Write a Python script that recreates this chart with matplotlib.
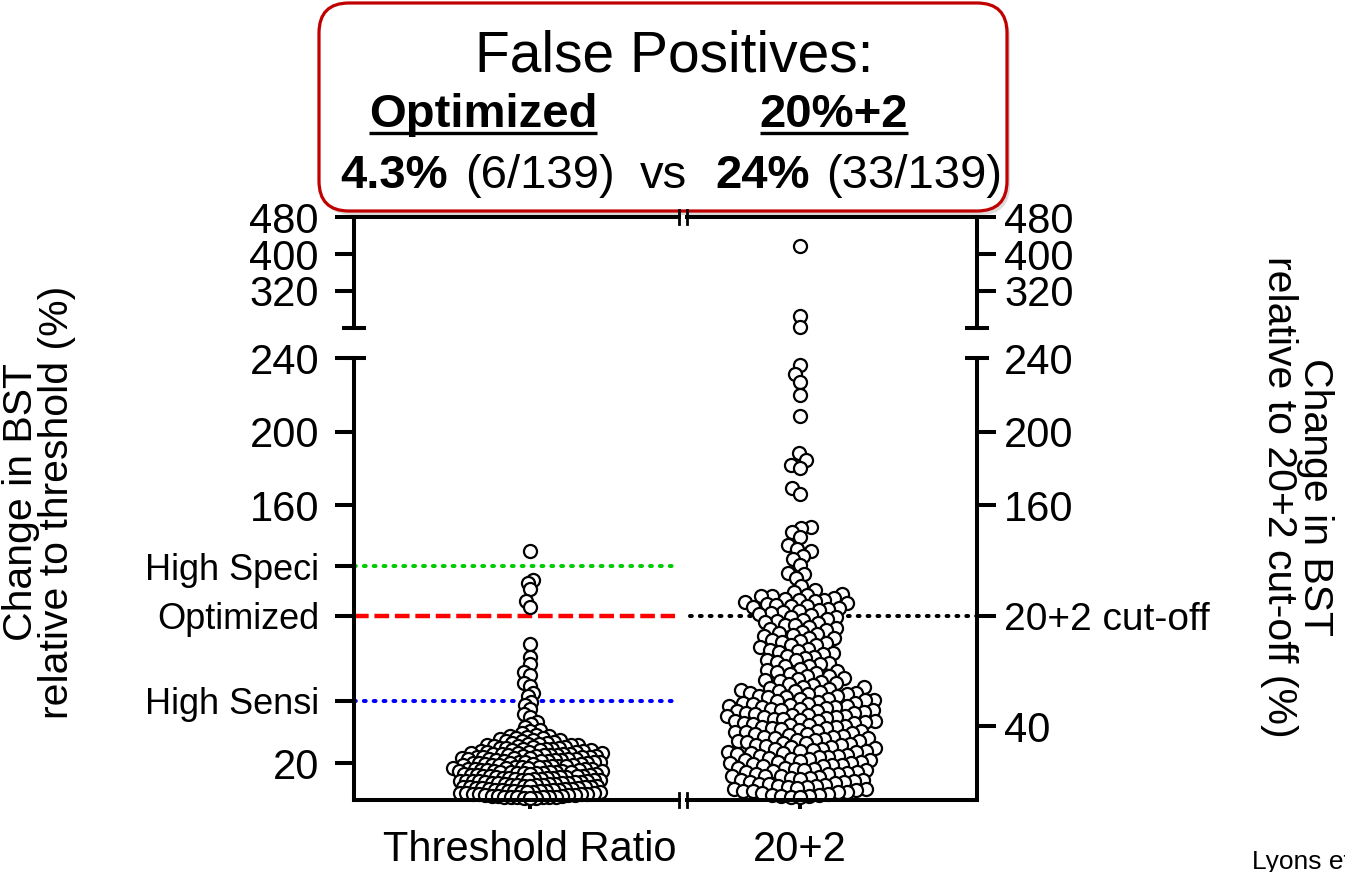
import numpy as np
import matplotlib
matplotlib.use("Agg")
import matplotlib.pyplot as plt
from matplotlib.patches import FancyBboxPatch

plt.rcParams["font.family"] = ["Liberation Sans", "DejaVu Sans"]

# ---------------- data ----------------
groups = ["Threshold Ratio", "20+2"]

# change in BST relative to the threshold ratio (%)
ratio_tail = [135.0, 119.6, 117.9, 114.7, 107.8, 104.9, 84.8, 77.9, 74.0, 69.6,
              68.1, 63.4, 62.0, 58.3, 56.2, 53.1, 51.6, 49.2, 46.5, 45.1, 42.3,
              41.0, 39.6, 38.0, 37.3, 36.2, 35.5]
ratio_core = [34.8, 34.5, 34.0, 33.7, 33.4, 33.0, 32.7, 32.5, 32.0, 31.8, 31.5,
              31.1, 30.9, 30.6, 30.3, 30.1,
              29.9, 29.7, 29.4, 29.2, 29.0, 28.8, 28.5, 28.4, 28.1, 27.9, 27.7,
              27.5, 27.2, 27.0, 26.9, 26.6, 26.5, 26.2, 26.0, 25.9, 25.7, 25.5,
              25.3, 25.2, 25.1, 25.0,
              24.9, 24.7, 24.5, 24.4, 24.2, 24.0, 23.9, 23.7, 23.5, 23.4, 23.2,
              23.1, 22.9, 22.8, 22.6, 22.4, 22.3, 22.1, 22.0, 21.8, 21.7, 21.5,
              21.4, 21.2, 21.1, 20.9, 20.8, 20.6, 20.5, 20.3, 20.2, 20.0,
              19.9, 19.7, 19.6, 19.4, 19.2, 19.1, 18.9, 18.8, 18.6, 18.5, 18.3,
              18.1, 18.0, 17.8, 17.7, 17.5, 17.4, 17.2, 17.0, 16.9, 16.7, 16.6,
              16.4, 16.3, 16.1, 15.9, 15.8, 15.6, 15.5, 15.4, 15.3, 15.2, 15.1,
              15.0,
              14.9, 14.7, 14.6, 14.4, 14.2, 14.1, 13.9, 13.8, 13.6, 13.5, 13.3,
              13.1, 13.0, 12.8, 12.7, 12.5, 12.4, 12.2, 12.0, 11.9, 11.7, 11.6,
              11.4, 11.3, 11.1, 10.9, 10.8, 10.6, 10.5, 10.4, 10.3, 10.2, 10.1,
              10.0,
              9.9, 9.7, 9.5, 9.4, 9.2, 9.1, 8.9, 8.7, 8.6, 8.4, 8.3, 8.1, 7.9,
              7.8, 7.6, 7.5, 7.3, 7.1, 7.0, 6.8, 6.7, 6.5, 6.3, 6.2, 6.0, 5.9,
              5.7, 5.6, 5.4, 5.3, 5.1, 5.0,
              4.9, 4.7, 4.6, 4.4, 4.2, 4.1, 3.9, 3.8, 3.6, 3.4, 3.3, 3.1, 3.0,
              2.8, 2.6, 2.5, 2.3, 2.2, 2.0, 1.9, 1.8, 1.7, 1.6, 1.5, 1.4, 1.3,
              1.2, 1.1]

# change in BST relative to the 20+2 cut-off (%)
cutoff_top = [418.0, 265.0, 243.0]
cutoff_tail = [236.0, 231.2, 226.8, 219.9, 208.7, 188.3, 184.6, 182.1, 180.5,
               169.2, 166.4, 148.4, 147.9, 145.3, 142.8, 138.2, 136.1, 135.0,
               132.3, 131.0, 127.4, 123.2, 122.6, 120.3, 116.1, 114.2, 112.7,
               111.9, 111.5, 110.8, 110.6]
cutoff_mid = [109.7, 109.3, 108.8, 108.5, 107.9, 107.6, 106.9, 106.6, 106.1,
              105.4, 105.2, 104.6, 104.0, 103.7, 103.1, 102.5, 102.2, 101.4,
              100.9, 100.3, 99.6, 99.1, 98.2, 97.8, 97.3, 96.7, 96.0, 95.1,
              94.9, 94.2, 93.2, 92.6, 92.1, 91.3, 90.8, 90.1, 89.4, 88.9, 88.2,
              87.9, 87.0, 86.1, 85.8, 85.3, 84.3, 83.9, 83.0, 82.2, 81.7, 81.0,
              80.6, 79.9, 79.5, 78.4, 77.9, 77.2, 76.2, 75.8, 75.1, 74.4, 73.6,
              72.9, 72.5, 71.2, 70.8, 70.1, 69.7, 68.9, 68.3, 67.6, 67.1, 66.4,
              65.9, 65.2, 64.8, 64.2, 63.5, 63.1, 62.5, 61.6, 61.1, 60.9, 60.3]
cutoff_core = [59.8, 59.4, 59.2, 58.5, 58.3, 57.9, 57.4, 57.3, 56.7, 56.4,
               56.0, 55.7, 55.1, 54.9, 54.5, 54.1, 53.7, 53.4, 52.8, 52.7,
               52.1, 51.9, 51.4, 51.2, 50.8, 50.7, 50.4, 50.1, 49.6, 49.5,
               49.0, 48.9, 48.4, 48.3, 47.8, 47.5, 47.1, 46.9, 46.4, 46.3,
               45.8, 45.7, 45.2, 44.9, 44.7, 44.1, 43.9, 43.6, 43.1, 42.9,
               42.7, 42.2, 41.8, 41.7, 41.1, 40.9, 40.6, 40.2, 39.7, 39.6,
               39.0, 38.9, 38.4, 38.2, 37.6, 37.5, 36.8, 36.7, 36.3, 35.8,
               35.6, 35.2, 34.9, 34.3, 34.1, 33.7, 33.6, 33.1, 32.8, 32.5,
               31.9, 31.8, 31.4, 30.9, 30.7, 30.3, 30.0, 29.8, 29.2, 29.0,
               28.7, 28.1, 27.9, 27.6, 27.2, 26.8, 26.6, 26.1, 25.9, 25.5,
               25.3, 24.8, 24.6, 24.0, 23.9, 23.5, 23.1, 22.8, 22.4, 22.2,
               21.7, 21.5, 21.3, 20.7, 20.6, 20.2, 19.9, 19.3, 19.1, 18.8,
               18.4, 18.2, 17.6, 17.4, 17.1, 16.9, 16.3, 16.2, 15.8, 15.4,
               15.1, 14.8, 14.3, 14.2, 13.9, 13.3, 13.2, 12.8, 12.4, 12.1,
               11.7, 11.6, 11.0, 10.8, 10.5, 9.9, 9.7, 9.3, 8.9, 8.6, 8.3,
               7.7, 7.6, 7.1, 6.9, 6.5, 6.0, 5.8, 5.3, 5.1, 4.7, 4.2, 4.1,
               3.6, 3.3, 2.9, 2.6, 2.3, 2.0, 1.8, 1.6]

ref_names = ["High Speci", "Optimized", "High Sensi"]
ref_values = [127, 100, 54]
cutoff_name = "20+2 cut-off"
cutoff_value = 100

left_ticks = [20, 160, 200, 240]
right_ticks = [40, 160, 200, 240]
upper_ticks = [320, 400, 480]

fp_title = "False Positives:"
fp_methods = ["Optimized", "20%+2"]
fp_rates = ["4.3%", "24%"]
fp_counts = ["(6/139)", "(33/139)"]

# ---------------- layout ----------------
W, H, DPI = 1345, 872, 100
fig = plt.figure(figsize=(W / DPI, H / DPI), dpi=DPI)
fig.patch.set_facecolor("white")


def rect(x0, y0, x1, y1):
    return [x0 / W, 1 - y1 / H, (x1 - x0) / W, (y1 - y0) / H]


XL, XR = 354, 977            # left / right spines
LO_TOP, LO_BOT = 358, 800    # lower segment (0-240)
HI_TOP, HI_BOT = 217, 328    # upper segment (240-480)
C0, STEP = 530, 270          # group centre and spacing
xlim = ((XL - C0) / STEP, (XR - C0) / STEP)

SP = 2.9          # spine width, pt
TL = 13.7         # y tick length, pt
NUM_FS = 30
NAME_FS = 26
LPAD, RPAD = 11.5, 6

ax_lo = fig.add_axes(rect(XL, LO_TOP, XR, LO_BOT))
ax_hi = fig.add_axes(rect(XL, HI_TOP, XR, HI_BOT))
for ax in (ax_lo, ax_hi):
    ax.set_xlim(*xlim)
    ax.patch.set_visible(False)
    for s in ax.spines.values():
        s.set_linewidth(SP)
    ax.spines["top"].set_visible(False)
    ax.spines["bottom"].set_visible(False)
ax_lo.set_ylim(0, 240)
ax_hi.set_ylim(240, 480)

# left axis of lower segment
lo_vals = [left_ticks[0], ref_values[2], ref_values[1], ref_values[0]] + left_ticks[1:]
lo_labs = [str(left_ticks[0]), ref_names[2], ref_names[1], ref_names[0]] + \
          [str(v) for v in left_ticks[1:]]
ax_lo.set_yticks(lo_vals)
ax_lo.set_yticklabels(lo_labs)
ax_lo.tick_params(axis="y", direction="out", length=TL, width=SP, pad=LPAD,
                  labelsize=NUM_FS, right=False)
for tk, lab in zip(ax_lo.yaxis.get_major_ticks(), lo_labs):
    if lab in ref_names:
        tk.label1.set_fontsize(NAME_FS)
        tk.tick1line.set_visible(False)
    if lab == "240":
        tk.tick1line.set_visible(False)

ax_lo.set_xticks([0, 1])
ax_lo.set_xticklabels(groups)
ax_lo.tick_params(axis="x", direction="out", length=6.5, width=SP, pad=15,
                  labelsize=30)

# right axis of lower segment
ax_r = ax_lo.twinx()
ax_r.set_ylim(0, 240)
ax_r.set_xlim(*xlim)
for s in ax_r.spines.values():
    s.set_visible(False)
r_vals = [right_ticks[0], cutoff_value] + right_ticks[1:]
r_labs = [str(right_ticks[0]), cutoff_name] + [str(v) for v in right_ticks[1:]]
ax_r.set_yticks(r_vals)
ax_r.set_yticklabels(r_labs)
ax_r.tick_params(axis="y", direction="out", length=TL, width=SP, pad=RPAD,
                 labelsize=NUM_FS)
for tk, lab in zip(ax_r.yaxis.get_major_ticks(), r_labs):
    if lab == cutoff_name:
        tk.label2.set_fontsize(28)
    if lab == "240":
        tk.tick2line.set_visible(False)

# upper segment, both sides
ax_hi.set_xticks([])
ax_hi.set_yticks(upper_ticks)
ax_hi.tick_params(axis="y", direction="out", length=TL, width=SP,
                  labelsize=NUM_FS, pad=LPAD, right=False)
ax_hr = ax_hi.twinx()
ax_hr.set_ylim(240, 480)
ax_hr.set_xlim(*xlim)
for s in ax_hr.spines.values():
    s.set_visible(False)
ax_hr.set_yticks(upper_ticks)
ax_hr.tick_params(axis="y", direction="out", length=TL, width=SP,
                  labelsize=NUM_FS, pad=RPAD)

# reference lines
x_left_end = (675 - C0) / STEP
x_right_start = (690 - C0) / STEP
dots = (0, (0.45, 2.0))
ax_lo.plot([xlim[0], x_left_end], [ref_values[0]] * 2, color="#00cc00",
           lw=2.9, linestyle=dots, dash_capstyle="round", zorder=1)
ax_lo.plot([xlim[0], x_left_end], [ref_values[1]] * 2, color="#ff0000",
           lw=3.2, linestyle=(0, (3.3, 1.3)), zorder=1)
ax_lo.plot([xlim[0], x_left_end], [ref_values[2]] * 2, color="#0000ff",
           lw=2.9, linestyle=dots, dash_capstyle="round", zorder=1)
ax_lo.plot([x_right_start, xlim[1]], [cutoff_value] * 2, color="black",
           lw=2.9, linestyle=dots, dash_capstyle="round", zorder=1)


# swarm layout in display space
def swarm_x(ax, centre, values, dmin):
    vals = np.asarray(values, float)
    pts = ax.transData.transform(np.column_stack([np.full(len(vals), centre), vals]))
    cx = pts[0, 0]
    ys = pts[:, 1]
    xs = np.full(len(vals), cx)
    placed = np.empty((0, 2))
    for i in np.argsort(ys, kind="stable"):
        y = ys[i]
        near = placed[np.abs(placed[:, 1] - y) < dmin]
        cands = [cx]
        for px, py in near:
            dx = np.sqrt(dmin ** 2 - (y - py) ** 2)
            cands += [px - dx, px + dx]
        cands.sort(key=lambda c: abs(c - cx))
        for c in cands:
            if len(near) == 0 or np.all((near[:, 0] - c) ** 2 + (near[:, 1] - y) ** 2
                                        >= dmin ** 2 - 1e-6):
                xs[i] = c
                break
        placed = np.vstack([placed, [xs[i], y]])
    return ax.transData.inverted().transform(np.column_stack([xs, ys]))[:, 0]


mk = dict(marker="o", linestyle="none", ms=9.4, mfc="white", mec="black",
          mew=1.6, clip_on=False, zorder=3)

ratio_vals = ratio_tail + ratio_core
ax_lo.plot(swarm_x(ax_lo, 0, ratio_vals, 6.4), ratio_vals, **mk)

cut_lo = cutoff_tail + cutoff_mid + cutoff_core
ax_lo.plot(swarm_x(ax_lo, 1, cut_lo, 9.5), cut_lo, **mk)
ax_hi.plot(swarm_x(ax_hi, 1, cutoff_top, 9.5), cutoff_top, **mk)

# ---------------- overlay: frame breaks, header, labels ----------------
ov = fig.add_axes([0, 0, 1, 1], zorder=10)
ov.set_xlim(0, W)
ov.set_ylim(H, 0)
ov.axis("off")

BRK1, BRK2 = 679, 687
line_kw = dict(color="black", lw=SP, solid_capstyle="projecting")
for yy in (LO_BOT, HI_TOP):
    ov.plot([XL, BRK1], [yy, yy], **line_kw)
    ov.plot([BRK2, XR], [yy, yy], **line_kw)
    for xb in (BRK1, BRK2):
        ov.plot([xb, xb], [yy - 7, yy + 7], color="black", lw=2.0)
for xs_ in (XL, XR):
    for yy in (LO_TOP, HI_BOT):
        ov.plot([xs_ - 12, xs_ + 12], [yy, yy], color="black", lw=SP,
                solid_capstyle="butt")

# header box
shadow = FancyBboxPatch((322, 7), 688, 208, boxstyle="round,pad=0,rounding_size=30",
                        fc="#c4c4c4", ec="none", alpha=0.6)
ov.add_patch(shadow)
hdr = FancyBboxPatch((319, 3), 688, 208, boxstyle="round,pad=0,rounding_size=30",
                     fc="white", ec="#c00000", lw=2.3)
ov.add_patch(hdr)
ov.text(674, 72, fp_title, ha="center", va="baseline", fontsize=41)

renderer = fig.canvas.get_renderer()
inv = ov.transData.inverted()
for xc, name in zip((483, 834), fp_methods):
    t = ov.text(xc, 127, name, ha="center", va="baseline", fontsize=34,
                fontweight="bold")
    bb = t.get_window_extent(renderer)
    (x0, _), (x1, _) = inv.transform([[bb.x0, 0], [bb.x1, 0]])
    ov.plot([x0, x1], [133, 133], color="black", lw=2.4, solid_capstyle="butt")

row_y = 188
ov.text(340, row_y, fp_rates[0], ha="left", va="baseline", fontsize=34, fontweight="bold")
ov.text(465, row_y, fp_counts[0], ha="left", va="baseline", fontsize=34)
ov.text(640, row_y, "vs", ha="left", va="baseline", fontsize=34)
ov.text(715, row_y, fp_rates[1], ha="left", va="baseline", fontsize=34, fontweight="bold")
ov.text(826, row_y, fp_counts[1], ha="left", va="baseline", fontsize=34)

# axis titles
ov.text(39, 502, "Change in BST\nrelative to threshold (%)", rotation=90,
        ha="center", va="center", fontsize=29.5, linespacing=0.95,
        multialignment="center")
ov.text(1297, 497, "Change in BST\nrelative to 20+2 cut-off (%)", rotation=270,
        ha="center", va="center", fontsize=29.5, linespacing=0.95,
        multialignment="center")

ov.text(1252, 869, "Lyons et al.", ha="left", va="baseline", fontsize=19)

fig.savefig("out.png", dpi=DPI, facecolor="white")
